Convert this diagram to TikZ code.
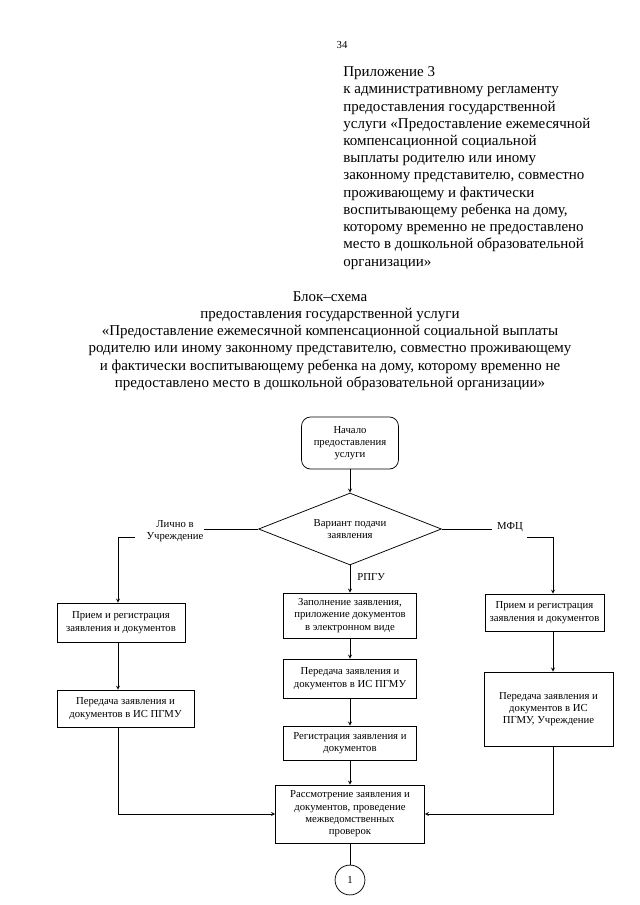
\documentclass[tikz,border=0pt]{standalone}
\usepackage{fontspec}
\setmainfont{Liberation Serif}
\usepackage{tikz}
\usetikzlibrary{arrows,shapes.geometric}

\begin{document}
\begin{tikzpicture}
  [x=0.3281mm,y=-0.3281mm,>=stealth,line width=0.7pt,
   every node/.style={align=center,inner sep=0pt,font=\fontsize{10}{11.5}\selectfont}]

  \tikzstyle{blok} = [draw,fill=white]
  \tikzstyle{nachalo} = [blok,rounded corners=3mm]
  \tikzstyle{vybor} = [draw,diamond,aspect=2.5]
  \tikzstyle{zagl} = [font=\fontsize{14}{16.1}\selectfont]

  \useasboundingbox (0,0) rectangle (640,905);

  \node (nom) at (342,45) {34};
  \node[zagl,anchor=west,align=left] (pril) at (343,168)
    {Приложение 3\\
     к административному регламенту\\
     предоставления государственной\\
     услуги «Предоставление ежемесячной\\
     компенсационной социальной\\
     выплаты родителю или иному\\
     законному представителю, совместно\\
     проживающему и фактически\\
     воспитывающему ребенка на дому,\\
     которому временно не предоставлено\\
     место в дошкольной образовательной\\
     организации»};
  \node[zagl] (blsh) at (330,341)
    {Блок–схема\\
     предоставления государственной услуги\\
     «Предоставление ежемесячной компенсационной социальной выплаты\\
     родителю или иному законному представителю, совместно проживающему\\
     и фактически воспитывающему ребенка на дому, которому временно не\\
     предоставлено место в дошкольной образовательной организации»};

  \node[nachalo,minimum width=31.8mm,minimum height=17.1mm] (nach) at (350,443)
    {Начало\\предоставления\\услуги};
  \node[vybor,minimum width=60mm,minimum height=23.6mm] (vyb) at (350,529)
    {Вариант подачи\\заявления};

  \node (lich) at (175,531) {Лично в\\Учреждение};
  \node (mfc) at (510,527) {МФЦ};
  \node[anchor=west] (rpgu) at (357,577) {РПГУ};
  \coordinate (lk) at (135,537);
  \coordinate (lug) at (118,537);
  \coordinate (pk) at (527,537);
  \coordinate (pug) at (553,537);

  \node[blok,minimum width=42mm,minimum height=12.8mm] (l1) at (121,622.5)
    {Прием и регистрация\\заявления и документов};
  \node[blok,minimum width=45mm,minimum height=12.1mm] (l2) at (125.5,708.5)
    {Передача заявления и\\документов в ИС ПГМУ};

  \node[blok,minimum width=43.6mm,minimum height=14.8mm] (m1) at (350,615.5)
    {Заполнение заявления,\\приложение документов\\в электронном виде};
  \node[blok,minimum width=43.6mm,minimum height=12.8mm] (m2) at (350,678.5)
    {Передача заявления и\\документов в ИС ПГМУ};
  \node[blok,minimum width=43.6mm,minimum height=11.2mm] (m3) at (350,743)
    {Регистрация заявления и\\документов};

  \node[blok,minimum width=39mm,minimum height=12.1mm] (r1) at (544.5,612.5)
    {Прием и регистрация\\заявления и документов};
  \node[blok,minimum width=42.3mm,minimum height=24.3mm] (r2) at (548.5,709)
    {Передача заявления и\\документов в ИС\\ПГМУ, Учреждение};

  \node[blok,minimum width=48.9mm,minimum height=19mm] (rass) at (350,814)
    {Рассмотрение заявления и\\документов, проведение\\межведомственных\\проверок};
  \node[draw,circle,minimum size=9.8mm] (krug) at (350,880) {1};

  \path[->]
        (nach) edge (vyb)
        (vyb)  edge (m1)
        (m1)   edge (m2)
        (m2)   edge (m3)
        (m3)   edge (rass);
  \draw (rass) -- (krug);

  \draw (vyb.west) -- (lich.east |- vyb.west);
  \draw[->] (lk) -- (lug) -- (lug |- l1.north);
  \draw[->] (lug |- l1.south) -- (lug |- l2.north);
  \draw[->] (lug |- l2.south) |- (rass.west);

  \draw (vyb.east) -- ([xshift=-1.5mm]mfc.west |- vyb.east);
  \draw[->] (pk) -- (pug) -- (pug |- r1.north);
  \draw[->] (pug |- r1.south) -- (pug |- r2.north);
  \draw[->] (pug |- r2.south) |- (rass.east);
\end{tikzpicture}
\end{document}
